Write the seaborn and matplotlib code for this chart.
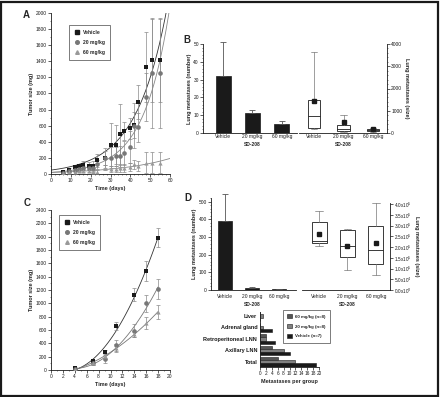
"""Tumor growth and metastasis figure (panels A-D)."""

import matplotlib

matplotlib.use("Agg")

import matplotlib.pyplot as plt  # noqa: E402
import matplotlib.transforms as mtransforms  # noqa: E402
import numpy as np  # noqa: E402
import pandas as pd  # noqa: E402
import seaborn as sns  # noqa: E402
from matplotlib.lines import Line2D  # noqa: E402
from matplotlib.patches import Rectangle  # noqa: E402
from matplotlib.ticker import FixedLocator, FuncFormatter, MultipleLocator  # noqa: E402

# ---- data -------------------------------------------------------------
groups = ["Vehicle", "20 mg/kg", "60 mg/kg"]

# Panel A: tumor size over time
days_a = [6, 9, 12, 14, 16, 19, 21, 23, 27, 30, 33, 35, 37, 40, 42, 44, 48, 51, 55]
vehicle_a = [20, 55, 85, 100, 115, 100, 100, 170, 200, 365, 365, 500, 535, 570, 610, 895, 1330, 1420, 1420]
mid_a = [15, 40, 55, 65, 80, 80, 70, 120, 200, 200, 220, 220, 260, 340, 600, 580, 960, 1250, 1250]
high_a = [10, 20, 30, 40, 40, 40, 30, 30, 80, 60, 60, 70, 80, 90, 120, 100, 140, 140, 140]
vehicle_a_err = [5, 15, 20, 30, 45, 50, 60, 80, 90, 265, 245, 375, 115, 130, 160, 215, 430, 520, 520]
mid_a_err = [5, 10, 15, 20, 25, 20, 40, 60, 120, 130, 120, 130, 150, 200, 280, 180, 300, 680, 680]
high_a_err = [5, 5, 10, 10, 15, 15, 20, 25, 30, 40, 40, 40, 50, 50, 60, 60, 130, 130, 130]

# Panel B: lung metastases number / size
b_counts = [32, 11, 5]
b_counts_err = [19, 2, 1.5]
b_box_whislo = [190, 60, 60]
b_box_q1 = [240, 90, 90]
b_box_med = [755, 160, 135]
b_box_q3 = [1470, 350, 195]
b_box_whishi = [3640, 800, 240]
b_box_mean = [1450, 500, 165]

# Panel C: tumor size over time (second model)
days_c = [4, 7, 9, 11, 14, 16, 18]
vehicle_c = [30, 135, 265, 665, 1130, 1485, 1985]
mid_c = [20, 100, 160, 370, 590, 1000, 1220]
high_c = [10, 100, 210, 330, 540, 700, 870]
vehicle_c_err = [20, 20, 30, 60, 100, 150, 140]
mid_c_err = [10, 20, 60, 80, 100, 130, 150]
high_c_err = [10, 20, 40, 60, 50, 90, 100]

# Panel D: lung metastases number / size
d_counts = [390, 12, 6]
d_counts_err = [155, 3, 2]
d_box_whislo = [2.03e5, 0.92e5, 0.69e5]
d_box_q1 = [2.20e5, 1.54e5, 1.20e5]
d_box_med = [2.30e5, 2.03e5, 1.85e5]
d_box_q3 = [3.15e5, 2.80e5, 2.97e5]
d_box_whishi = [3.69e5, 2.82e5, 4.03e5]
d_box_mean = [2.60e5, 2.03e5, 2.20e5]

# Panel D (lower): metastases per site
sites = ["Liver", "Adrenal gland", "Retroperitoneal LNN", "Axillary LNN", "Total"]
site_groups = ["60 mg/kg (n=8)", "20 mg/kg (n=8)", "Vehicle (n=7)"]
sites_high = [0, 0, 2, 4, 6]
sites_mid = [1, 1, 2, 8, 12]
sites_vehicle = [0, 4, 5, 10, 19]

# ---- styling ----------------------------------------------------------
sns.set_theme(style="ticks")
plt.rcParams["font.family"] = ["Liberation Sans", "DejaVu Sans"]

BLACK = "#1a1a1a"
MID = "#777777"
LIGHT = "#999999"
ERR = "#8a8a8a"
TICK = 3.5
LAB = 4.0


def style_axis(ax):
    ax.tick_params(labelsize=TICK, length=2, width=0.5, pad=1, colors=BLACK)
    ax.tick_params(which="minor", length=1, width=0.4)
    for sp in ax.spines.values():
        sp.set_linewidth(0.6)
        sp.set_color(BLACK)


def fig_rect(left, top, right, bottom, W=440, H=397):
    return [left / W, 1 - bottom / H, (right - left) / W, (bottom - top) / H]


def exp_fit(x, y):
    """Least-squares fit of y = a * exp(k x), started from a log-linear fit."""
    x = np.asarray(x, dtype=float)
    y = np.asarray(y, dtype=float)
    k, log_a = np.polyfit(x, np.log(y), 1, w=y)
    a = np.exp(log_a)
    for _ in range(60):
        e = np.exp(k * x)
        jac = np.column_stack([e, a * x * e])
        step = np.linalg.lstsq(jac, y - a * e, rcond=None)[0]
        a, k = a + step[0], k + step[1]
    return a, k


def sd_label(ax, offset):
    trans = mtransforms.blended_transform_factory(ax.transData, ax.transAxes)
    ax.annotate("SD-208", xy=(1, 0), xycoords=trans, xytext=(0, -offset),
                textcoords="offset pixels", ha="center", va="center",
                fontsize=TICK, fontweight="bold")


def box_panel(ax, whislo, q1, med, q3, whishi, mean, width, offset):
    stats = [
        dict(whislo=whislo[i], q1=q1[i], med=med[i], q3=q3[i],
             whishi=whishi[i], mean=mean[i], fliers=[])
        for i in range(len(groups))
    ]
    ax.bxp(stats, positions=range(len(groups)), widths=width, showmeans=True,
           showfliers=False, patch_artist=True, capwidths=width / 2,
           boxprops=dict(lw=0.6, edgecolor=BLACK, facecolor="white"),
           whiskerprops=dict(lw=0.5, color=MID),
           capprops=dict(lw=0.5, color=MID),
           medianprops=dict(lw=0.6, color=BLACK),
           meanprops=dict(marker="s", markersize=2.6, markerfacecolor=BLACK,
                          markeredgecolor=BLACK))
    ax.set_xticks(range(len(groups)), groups)
    ax.yaxis.tick_right()
    ax.yaxis.set_label_position("right")
    ax.spines["left"].set_visible(False)
    ax.spines["top"].set_visible(False)
    ax.set_ylabel("Lung metastases (size)", fontsize=LAB, fontweight="bold",
                  rotation=270, labelpad=5)
    sd_label(ax, offset)


def count_panel(ax, counts, err, width, offset):
    sns.barplot(x=groups, y=counts, color=BLACK, width=width, ax=ax,
                edgecolor=BLACK, linewidth=0.5, saturation=1)
    ax.errorbar(range(len(groups)), counts, yerr=[np.zeros(len(counts)), err],
                fmt="none", ecolor="#555555", elinewidth=0.6, capsize=2,
                capthick=0.6, clip_on=False)
    ax.set_ylabel("Lung metastases (number)", fontsize=LAB, fontweight="bold",
                  labelpad=1)
    sns.despine(ax=ax)
    sd_label(ax, offset)


fig = plt.figure(figsize=(4.4, 3.97), dpi=100)

legend_handles = [
    Line2D([], [], ls="none", marker="s", color=BLACK, markersize=2.6),
    Line2D([], [], ls="none", marker="o", color=MID, markersize=2.6),
    Line2D([], [], ls="none", marker="^", color=LIGHT, markersize=2.6),
]
legend_kw = dict(loc="upper left", bbox_transform=fig.transFigure,
                 prop={"size": 3.6, "weight": "bold"}, frameon=True, fancybox=False,
                 edgecolor=BLACK, borderpad=1.0, labelspacing=1.0, handletextpad=0.8,
                 handlelength=1, borderaxespad=0)

# ---- panel A ----------------------------------------------------------
ax_a = fig.add_axes(fig_rect(51, 13, 170, 174))
series_a = [
    (vehicle_a, vehicle_a_err, BLACK, "s", 12, "#333333"),
    (mid_a, mid_a_err, MID, "o", 11, "#888888"),
    (high_a, high_a_err, LIGHT, "^", 9, "#888888"),
]
x_fit = np.linspace(0, 60, 300)
for vals, err, col, mk, size, line_col in series_a:
    a0, k0 = exp_fit(days_a, vals)
    sns.lineplot(x=x_fit, y=a0 * np.exp(k0 * x_fit), color=line_col, lw=0.6, ax=ax_a)
    ax_a.errorbar(days_a, vals, yerr=err, fmt="none", ecolor=ERR, elinewidth=0.5,
                  capsize=1.5, capthick=0.5)
    sns.scatterplot(x=days_a, y=vals, marker=mk, color=col, s=size,
                    edgecolor=col, linewidth=0, ax=ax_a, zorder=5)
ax_a.set_xlim(0, 60)
ax_a.set_ylim(0, 2000)
ax_a.xaxis.set_major_locator(MultipleLocator(10))
ax_a.xaxis.set_minor_locator(MultipleLocator(2))
ax_a.yaxis.set_major_locator(MultipleLocator(200))
ax_a.yaxis.set_minor_locator(MultipleLocator(100))
ax_a.set_xlabel("Time (days)", fontsize=LAB, fontweight="bold", labelpad=2)
ax_a.set_ylabel("Tumor size (mg)", fontsize=LAB, fontweight="bold", labelpad=1)
sns.despine(ax=ax_a)
style_axis(ax_a)
ax_a.legend(legend_handles, groups, bbox_to_anchor=(69 / 440, 1 - 25 / 397),
            **legend_kw).get_frame().set_linewidth(0.5)

# ---- panel B ----------------------------------------------------------
ax_b1 = fig.add_axes(fig_rect(203, 44, 297, 133))
count_panel(ax_b1, b_counts, b_counts_err, 0.5, 11)
ax_b1.set_xlim(-0.69, 2.52)
ax_b1.set_ylim(0, 50)
ax_b1.yaxis.set_major_locator(MultipleLocator(10))
ax_b1.yaxis.set_minor_locator(MultipleLocator(2))
style_axis(ax_b1)
ax_b1.tick_params(axis="x", length=0, pad=1)

ax_b2 = fig.add_axes(fig_rect(299, 44, 387, 133))
box_panel(ax_b2, b_box_whislo, b_box_q1, b_box_med, b_box_q3, b_box_whishi,
          b_box_mean, 0.42, 11)
ax_b2.set_xlim(-0.51, 2.47)
ax_b2.set_ylim(0, 4000)
ax_b2.yaxis.set_major_locator(MultipleLocator(1000))
ax_b2.yaxis.set_minor_locator(MultipleLocator(200))
style_axis(ax_b2)
ax_b2.tick_params(axis="x", length=0, pad=1)

# ---- panel C ----------------------------------------------------------
ax_c = fig.add_axes(fig_rect(51, 210, 170, 370))
series_c = [
    (vehicle_c, vehicle_c_err, BLACK, "s", 12, "#333333"),
    (mid_c, mid_c_err, MID, "o", 11, "#777777"),
    (high_c, high_c_err, LIGHT, "^", 9, "#777777"),
]
for vals, err, col, mk, size, line_col in series_c:
    sns.regplot(x=days_c, y=vals, order=2, ci=None, scatter=False, truncate=True,
                line_kws=dict(color=line_col, lw=0.6), ax=ax_c)
    ax_c.errorbar(days_c, vals, yerr=err, fmt="none", ecolor=ERR, elinewidth=0.5,
                  capsize=1.5, capthick=0.5)
    sns.scatterplot(x=days_c, y=vals, marker=mk, color=col, s=size,
                    edgecolor=col, linewidth=0, ax=ax_c, zorder=5)
ax_c.set_xlim(0, 20)
ax_c.set_ylim(0, 2400)
ax_c.xaxis.set_major_locator(MultipleLocator(2))
ax_c.xaxis.set_minor_locator(MultipleLocator(1))
ax_c.yaxis.set_major_locator(MultipleLocator(200))
ax_c.yaxis.set_minor_locator(MultipleLocator(100))
ax_c.set_xlabel("Time (days)", fontsize=LAB, fontweight="bold", labelpad=2)
ax_c.set_ylabel("Tumor size (mg)", fontsize=LAB, fontweight="bold", labelpad=1)
sns.despine(ax=ax_c)
style_axis(ax_c)
ax_c.legend(legend_handles, groups, bbox_to_anchor=(59 / 440, 1 - 215 / 397),
            **legend_kw).get_frame().set_linewidth(0.5)

# ---- panel D ----------------------------------------------------------
ax_d1 = fig.add_axes(fig_rect(211, 198, 296, 290))
count_panel(ax_d1, d_counts, d_counts_err, 0.55, 14)
ax_d1.set_xlim(-0.52, 2.63)
ax_d1.set_ylim(0, 520)
ax_d1.yaxis.set_major_locator(FixedLocator([0, 100, 200, 300, 400, 500]))
ax_d1.yaxis.set_minor_locator(MultipleLocator(20))
style_axis(ax_d1)
ax_d1.tick_params(axis="x", length=0, pad=3)

ax_d2 = fig.add_axes(fig_rect(302, 203, 390, 290))
box_panel(ax_d2, d_box_whislo, d_box_q1, d_box_med, d_box_q3, d_box_whishi,
          d_box_mean, 0.53, 14)
ax_d2.set_xlim(-0.6, 2.5)
ax_d2.set_ylim(0, 4.05e5)
ax_d2.yaxis.set_major_locator(FixedLocator(np.arange(0, 4.01e5, 5e4)))


def sci_label(v, _pos):
    if v <= 0:
        return r"0.0x10$^0$"
    exp = int(np.floor(np.log10(v)))
    return f"{v / 10 ** exp:.1f}x10$^{exp}$"


ax_d2.yaxis.set_major_formatter(FuncFormatter(sci_label))
style_axis(ax_d2)
ax_d2.tick_params(axis="y", labelsize=3.3)
ax_d2.tick_params(axis="x", length=0, pad=3)

# metastases per site
ax_d3 = fig.add_axes(fig_rect(260, 312, 319, 367))
site_df = pd.DataFrame({
    "site": sites * 3,
    "group": [site_groups[0]] * 5 + [site_groups[1]] * 5 + [site_groups[2]] * 5,
    "count": sites_high + sites_mid + sites_vehicle,
})
sns.barplot(data=site_df, y="site", x="count", hue="group", hue_order=site_groups,
            order=sites, orient="h", palette=["#555555", "#808080", BLACK],
            width=0.85, edgecolor=BLACK, linewidth=0.4, saturation=1, ax=ax_d3)
ax_d3.set_xlim(0, 20)
ax_d3.set_ylim(4.45, -0.35)
ax_d3.xaxis.set_major_locator(MultipleLocator(2))
ax_d3.set_ylabel("")
ax_d3.set_xlabel("Metastases per group", fontsize=LAB, fontweight="bold", labelpad=2)
sns.despine(ax=ax_d3)
style_axis(ax_d3)
ax_d3.tick_params(axis="x", labelsize=3.4)
ax_d3.tick_params(axis="y", labelsize=4.0, length=0, pad=2)
for lbl in ax_d3.get_yticklabels():
    lbl.set_fontweight("bold")
leg = ax_d3.legend(loc="upper left", bbox_to_anchor=(283 / 440, 1 - 310 / 397),
                   bbox_transform=fig.transFigure, prop={"size": 3.2, "weight": "bold"},
                   frameon=True, fancybox=False, edgecolor=BLACK, borderpad=1.0,
                   labelspacing=1.2, handlelength=1.0, handleheight=0.9,
                   handletextpad=0.8, borderaxespad=0)
leg.get_frame().set_linewidth(0.5)

# ---- panel letters and frame ------------------------------------------
for letter, (px, py) in {"A": (26, 15), "B": (187, 40), "C": (27, 203), "D": (188, 198)}.items():
    fig.text(px / 440, 1 - py / 397, letter, fontsize=7, fontweight="bold",
             ha="center", va="center")

fig.patches.append(Rectangle((1 / 440, 1.5 / 397), 436.5 / 440, 394 / 397,
                             transform=fig.transFigure, fill=False, lw=1.6,
                             edgecolor=BLACK))

fig.savefig("out.png", dpi=100)
plt.close(fig)
